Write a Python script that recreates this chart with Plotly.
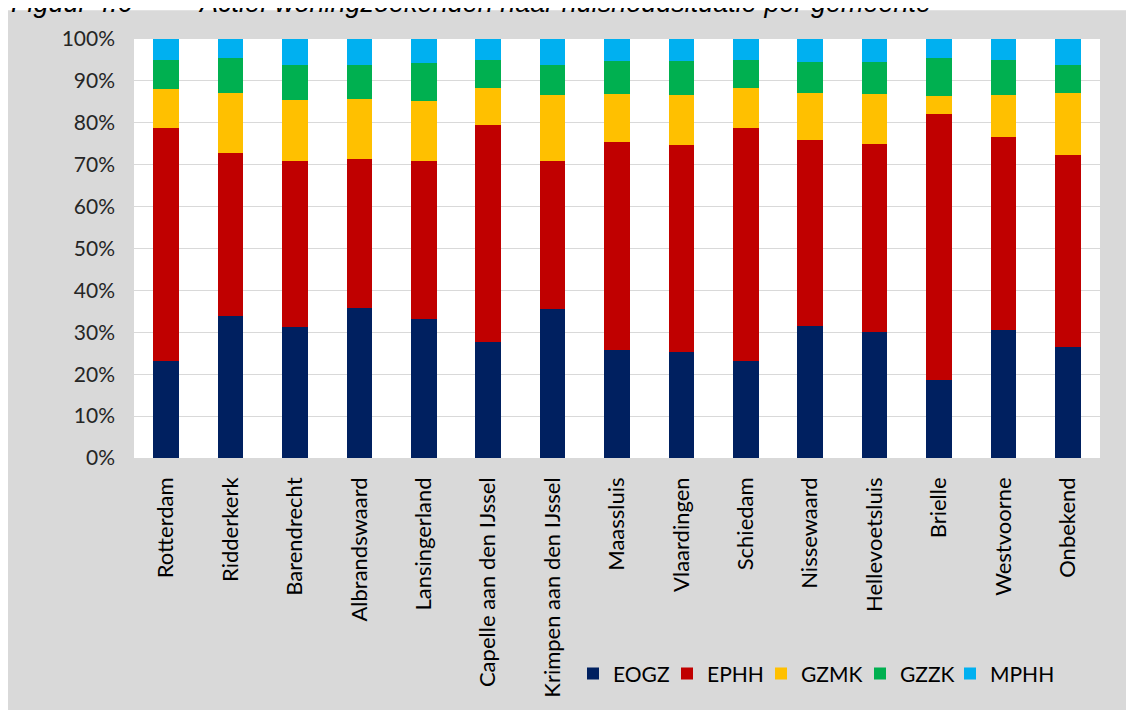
import plotly.graph_objects as go

categories = ["Rotterdam", "Ridderkerk", "Barendrecht", "Albrandswaard", "Lansingerland",
              "Capelle aan den IJssel", "Krimpen aan den IJssel", "Maassluis", "Vlaardingen",
              "Schiedam", "Nissewaard", "Hellevoetsluis", "Brielle", "Westvoorne", "Onbekend"]

eogz = [23.1, 34.0, 31.3, 35.9, 33.1, 27.6, 35.5, 25.8, 25.2, 23.1, 31.6, 30.0, 18.6, 30.6, 26.4]
ephh = [55.6, 38.9, 39.5, 35.5, 37.7, 51.9, 35.3, 49.5, 49.5, 55.6, 44.3, 45.0, 63.5, 45.9, 45.9]
gzmk = [9.4, 14.3, 14.6, 14.2, 14.3, 8.9, 15.8, 11.6, 11.9, 9.7, 11.3, 11.9, 4.2, 10.1, 14.9]
gzzk = [6.9, 8.2, 8.5, 8.3, 9.1, 6.6, 7.3, 7.9, 8.2, 6.6, 7.3, 7.6, 9.1, 8.4, 6.7]
mphh = [5.0, 4.6, 6.1, 6.1, 5.8, 5.0, 6.1, 5.2, 5.2, 5.0, 5.5, 5.5, 4.6, 5.0, 6.1]

series_names = ["EOGZ", "EPHH", "GZMK", "GZZK", "MPHH"]
series_values = [eogz, ephh, gzmk, gzzk, mphh]
series_colors = ["#002060", "#C00000", "#FFC000", "#00B050", "#00B0F0"]

y_ticks = [0, 10, 20, 30, 40, 50, 60, 70, 80, 90, 100]
y_ticklabels = [f"{v}%" for v in y_ticks]

title_num = "Figuur 4.6"
title_text = "Actief woningzoekenden naar huishoudsituatie per gemeente"

# page offset of the figure inside the html body
OFF = 8
W, H = 1134 - OFF, 710 - OFF
PL, PT, PR, PB = 134, 39, 1100, 460  # plot area in page pixels
L, T = PL - OFF, PT - OFF
R, B = W - (PR - OFF), H - (PB - OFF)
PW, PH = PR - PL, PB - PT


def px(x):  # page x -> paper
    return (x - PL) / PW


def py(y):  # page y -> paper
    return (PB - y) / PH


FONT = "Lato"
legend_lefts = [573, 667, 761, 860, 950]  # page x of each legend entry

fig = go.Figure()
legend_layouts = {}
for i, (name, vals, col) in enumerate(zip(series_names, series_values, series_colors)):
    key = "legend" if i == 0 else f"legend{i + 1}"
    fig.add_trace(go.Bar(x=categories, y=vals, name=name, legend=key,
                         marker=dict(color=col, line=dict(width=0))))
    legend_layouts[key] = dict(orientation="h", x=px(legend_lefts[i]), xanchor="left",
                               y=py(677), yanchor="middle",
                               font=dict(family=FONT, size=21, color="#000000"),
                               bgcolor="rgba(0,0,0,0)")

fig.update_layout(
    width=W, height=H,
    margin=dict(l=L, r=R, t=T, b=B, pad=0),
    barmode="stack",
    bargap=0.605,
    paper_bgcolor="white",
    plot_bgcolor="white",
    showlegend=True,
    xaxis=dict(tickangle=-90, tickfont=dict(family=FONT, size=22, color="#000000"),
               showgrid=False, showline=False, zeroline=False, ticks="",
               ticklabelstandoff=14),
    yaxis=dict(range=[0, 100], tickvals=y_ticks, ticktext=y_ticklabels,
               tickfont=dict(family=FONT, size=21, color="#262626"),
               showgrid=True, gridcolor="#d9d9d9", gridwidth=1,
               showline=False, zeroline=False, ticks="", ticklabelstandoff=18),
    shapes=[
        dict(type="rect", xref="paper", yref="paper", x0=px(8), x1=1.2, y0=-0.8, y1=py(10),
             fillcolor="#d9d9d9", line=dict(width=0), layer="below"),
        dict(type="rect", xref="paper", yref="paper", x0=0, x1=1, y0=0, y1=1,
             fillcolor="white", line=dict(width=0), layer="below"),
    ],
    annotations=[
        dict(text=f"<i>{title_num}</i>", xref="paper", yref="paper", x=px(9), y=py(20),
             xanchor="left", yanchor="bottom", showarrow=False,
             font=dict(family="Liberation Sans", size=27, color="#000000")),
        dict(text=f"<i>{title_text}</i>", xref="paper", yref="paper", x=px(196), y=py(20),
             xanchor="left", yanchor="bottom", showarrow=False,
             font=dict(family="Liberation Sans", size=27, color="#000000")),
    ],
)
fig.update_layout(**legend_layouts)

fig.write_html("out.html")
